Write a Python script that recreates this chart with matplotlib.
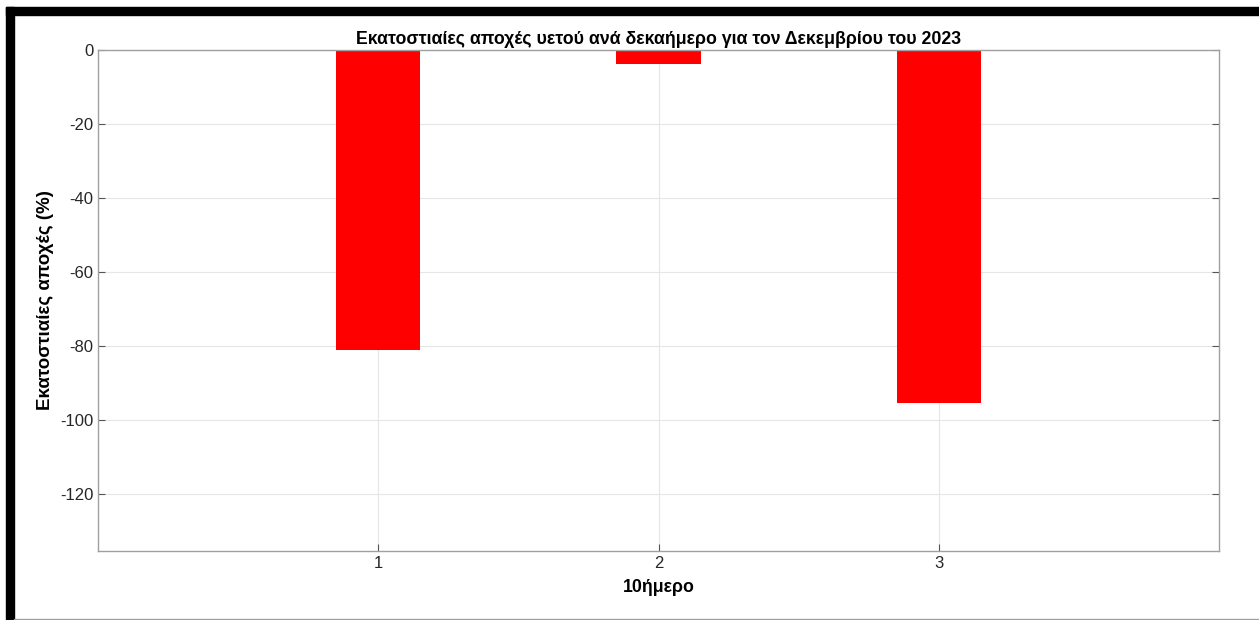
import matplotlib.pyplot as plt
from matplotlib.patches import Rectangle

plt.rcParams['font.family'] = ['Liberation Sans', 'DejaVu Sans']
plt.rcParams['axes.unicode_minus'] = False

# --- Data ---
decades = [1, 2, 3]
departures = [-81.1, -3.8, -95.4]
yticks = [0, -20, -40, -60, -80, -100, -120]

W, H = 1259, 620
fig = plt.figure(figsize=(W / 100, H / 100), dpi=100)

# axes placed in pixel terms
left, right, top, bottom = 98, 1219, 50, 551
ax = fig.add_axes([left / W, 1 - bottom / H, (right - left) / W, (bottom - top) / H])

ax.bar(decades, departures, width=0.3, color='red', zorder=2)

ax.set_xlim(0, 4)
ax.set_ylim(-135.4, 0)
ax.set_xticks(decades)
ax.set_yticks(yticks)
ax.grid(True, color='#e6e6e6', linewidth=0.8, zorder=0)
ax.tick_params(direction='in', length=5, color='#555555', labelsize=12,
               labelcolor='#262626', right=True, top=True)
for s in ax.spines.values():
    s.set_color('#a0a0a0')
    s.set_linewidth(1.0)

ax.set_title('Εκατοστιαίες αποχές υετού ανά δεκαήμερο για τον Δεκεμβρίου του 2023',
             fontsize=12.8, fontweight='bold', pad=4)
ax.set_xlabel('10ήμερο', fontsize=12.8, fontweight='bold', labelpad=6)
ax.set_ylabel('Εκατοστιαίες αποχές (%)', fontsize=13.5, fontweight='bold', labelpad=4)

# black frame around the screenshot
fig.patches.append(Rectangle((6 / W, 1 - 15 / H), (W - 6) / W, 8 / H,
                             transform=fig.transFigure, color='black', zorder=10))
fig.patches.append(Rectangle((6 / W, 0), 8 / W, 1 - 7 / H,
                             transform=fig.transFigure, color='black', zorder=10))
fig.patches.append(Rectangle((14 / W, 0), (W - 14) / W, 1.5 / H,
                             transform=fig.transFigure, color='#a0a0a0', zorder=10))

fig.savefig('out.png', dpi=100)
